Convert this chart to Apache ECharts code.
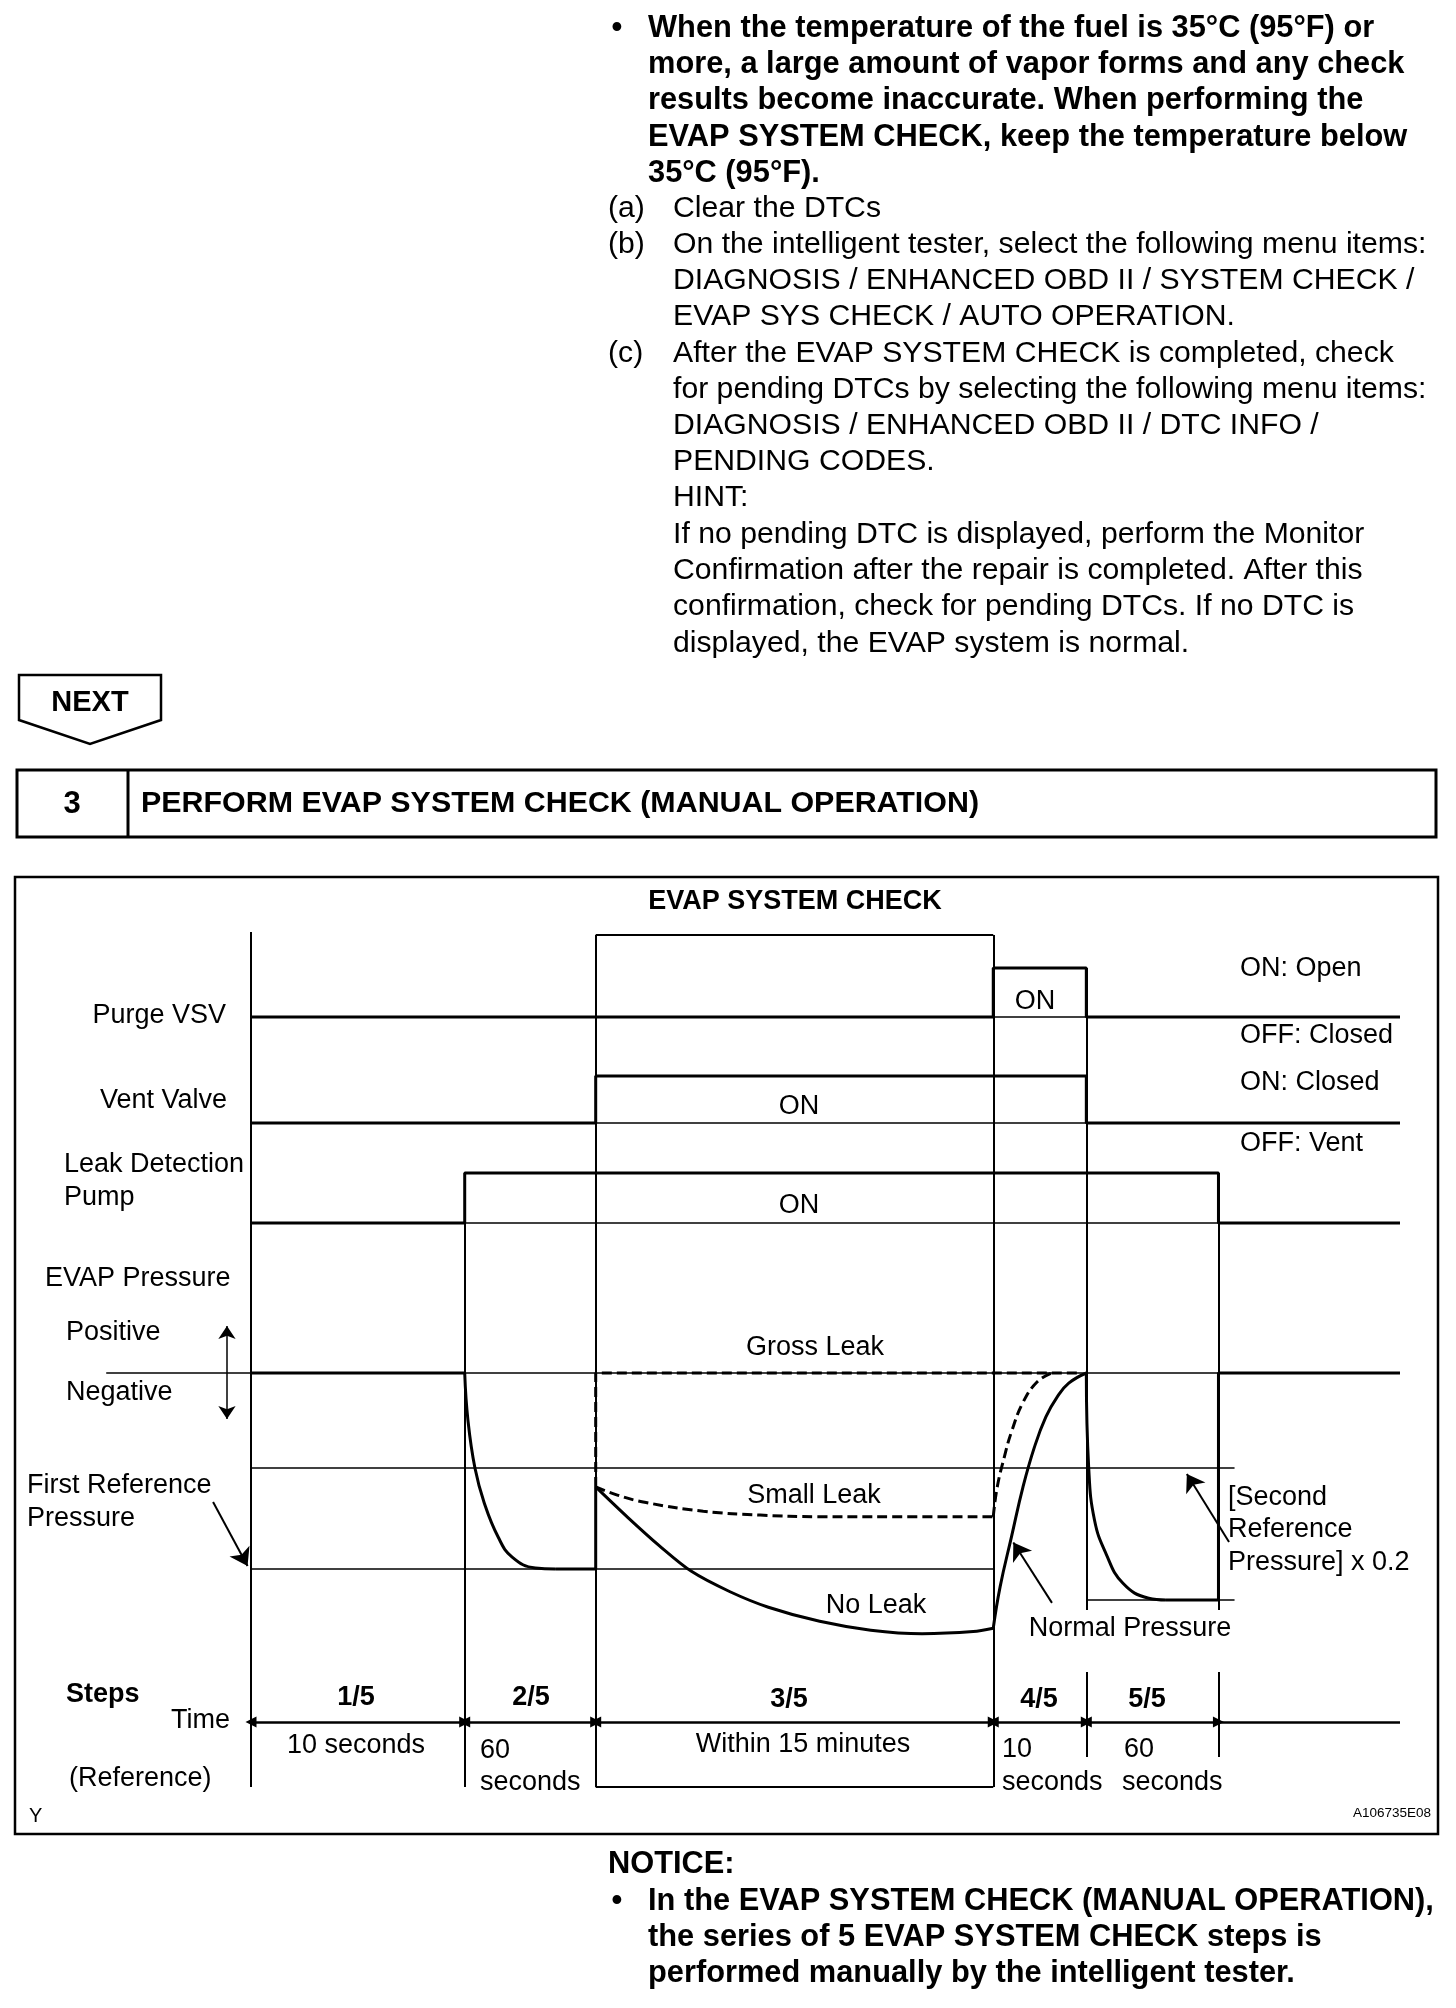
<!DOCTYPE html>
<html>
<head>
<meta charset="utf-8">
<title>EVAP SYSTEM CHECK</title>
<script src="https://cdn.jsdelivr.net/npm/echarts@6/dist/echarts.min.js"></script>
<style>
  html, body { margin: 0; padding: 0; background: #fff; }
  #chart { width: 1456px; height: 2008px; }
</style>
</head>
<body>
<div id="chart"></div>
<script>
// schematic time positions of the step boundaries (0 = left axis, 100 = right end)
const stepEdges = [0, 18.6, 30.0, 64.6, 72.7, 84.2, 100];
const stepNames = ['1/5', '2/5', '3/5', '4/5', '5/5'];

// on/off signals: [time, state] with 0 = OFF, 1 = ON
const purgeVsv = [[0, 0], [64.6, 0], [64.6, 1], [72.7, 1], [72.7, 0], [100, 0]];
const ventValve = [[0, 0], [30, 0], [30, 1], [72.7, 1], [72.7, 0], [100, 0]];
const leakPump = [[0, 0], [18.6, 0], [18.6, 1], [84.2, 1], [84.2, 0], [100, 0]];

// EVAP pressure, relative (0 = atmospheric, -1 = first reference pressure)
const pressHold = [[0, 0], [18.6, 0]];
const pressPumpDown = [[18.6, 0], [18.88, -0.24], [19.49, -0.485], [20.3, -0.663], [21.51, -0.837],
  [22.73, -0.939], [24.75, -0.995], [26.5, -1.0]];
const pressRefHold = [[26.5, -1.0], [30.0, -1.0], [30.0, -0.581]];
const pressNoLeak = [[30.0, -0.581], [32.76, -0.735], [35.55, -0.882], [38.33, -1.012], [41.69, -1.116],
  [45.03, -1.195], [49.49, -1.267], [53.94, -1.312], [58.4, -1.33], [62.86, -1.319], [64.6, -1.302]];
const pressNormalRise = [[64.6, -1.302], [65.2, -1.09], [66.19, -0.835], [67.19, -0.581], [68.19, -0.377],
  [69.18, -0.224], [70.17, -0.122], [71.17, -0.052], [72.7, 0]];
const pressSecondDown = [[72.7, 0], [72.91, -0.487], [73.41, -0.75], [74.4, -0.92], [75.89, -1.073],
  [78.13, -1.149], [79.62, -1.158]];
const pressSecondHold = [[79.62, -1.158], [84.2, -1.158], [84.2, 0], [100, 0]];
const grossLeak = [[30.0, -0.581], [30.0, 0], [72.2, 0]];
const smallLeak = [[30.0, -0.581], [31.89, -0.623], [34.38, -0.661], [39.36, -0.705], [44.32, -0.725],
  [49.29, -0.733], [56.0, -0.734], [64.6, -0.734]];
const smallLeakRise = [[64.6, -0.734], [64.95, -0.581], [65.6, -0.42], [66.19, -0.3], [67.19, -0.15],
  [68.43, -0.045], [69.67, 0]];

// thin reference levels in the pressure panel
const pressLevels = [
  [[-12.6, 0], [100, 0]],
  [[0, -0.485], [85.6, -0.485]],
  [[0, -1.0], [64.6, -1.0]],
  [[72.7, -1.158], [85.6, -1.158]]
];
// annotation arrows [from, to] in the pressure panel
const pressArrows = [
  [[-3.3, -0.658], [-0.3, -0.985]],
  [[69.71, -1.173], [66.35, -0.865]],
  [[85.12, -0.862], [81.45, -0.515]]
];
const posNegArrow = [[-2.09, 0.24], [-2.09, -0.235]];

// thin vertical frame lines, y as fraction of the diagram height
const frameLines = [
  [[0, 0], [0, 1]],
  [[18.6, 0], [18.6, 0.718]],
  [[30, 0], [30, 0.9965]],
  [[64.6, 0], [64.6, 0.9965]],
  [[30, 0.9965], [64.6, 0.9965]],
  [[30, 0], [64.6, 0]],
  [[72.7, 0.207], [72.7, 0.958]],
  [[72.7, 0.035], [72.7, 0.1345]],
  [[84.2, 0.207], [84.2, 0.718]],
  [[84.2, 0.035], [84.2, 0.1345]]
];

const FONT = '"Liberation Sans", Arial, Helvetica, sans-serif';
const L = 251, W = 1149;

function txt(x, y, text, o) {
  return {
    type: 'text', x: x, y: y, silent: true,
    style: Object.assign({
      text: text, fill: '#000', fontFamily: FONT, fontSize: 27, fontWeight: 'normal',
      align: 'left', verticalAlign: 'middle'
    }, o || {})
  };
}
const B = { fontWeight: 'bold', fontSize: 30.8 };
const R = { fontSize: 30.2 };

function line(name, grid, data, width, extra) {
  return Object.assign({
    name: name, type: 'line', xAxisIndex: grid, yAxisIndex: grid, data: data,
    showSymbol: false, symbol: 'none', clip: false, silent: true,
    lineStyle: { color: '#000', width: width }
  }, extra || {});
}
function curve(name, grid, data, width, dashed, smooth) {
  return line(name, grid, data, width, {
    smooth: smooth || 0.45,
    lineStyle: { color: '#000', width: width, type: dashed ? [10, 5] : 'solid' }
  });
}
function segs(grid, list, width, symbol, size) {
  return {
    type: 'lines', coordinateSystem: 'cartesian2d', xAxisIndex: grid, yAxisIndex: grid,
    clip: false, silent: true, symbol: symbol || ['none', 'none'], symbolSize: size || 10,
    lineStyle: { color: '#000', width: width, opacity: 1 },
    itemStyle: { color: '#000' },
    data: list.map(function (c) { return { coords: c }; })
  };
}

const grids = [
  { left: L, width: W, top: 932, height: 855 },   // frame
  { left: L, width: W, top: 968, height: 49 },    // purge VSV
  { left: L, width: W, top: 1076, height: 47 },   // vent valve
  { left: L, width: W, top: 1173, height: 50 },   // leak detection pump
  { left: L, width: W, top: 1275, height: 392 },  // EVAP pressure
  { left: L, width: W, top: 1712, height: 20 }    // steps / time
];
const yRanges = [[0, 1], [0, 1], [0, 1], [0, 1], [-1.5, 0.5], [-1, 1]];

const timeArrows = [];
for (let i = 0; i < 5; i++) timeArrows.push([[stepEdges[i], 0], [stepEdges[i + 1], 0]]);

const series = [
  segs(0, frameLines, 2),
  segs(1, [[[0, 0], [100, 0]]], 1.5),
  segs(2, [[[0, 0], [100, 0]]], 1.5),
  segs(3, [[[0, 0], [100, 0]]], 1.5),
  segs(4, pressLevels, 1.5),
  line('Purge VSV', 1, purgeVsv, 3),
  line('Vent Valve', 2, ventValve, 3),
  line('Leak Detection Pump', 3, leakPump, 3),
  line('hold', 4, pressHold, 3),
  curve('pump down', 4, pressPumpDown, 3),
  line('ref hold', 4, pressRefHold, 3),
  curve('No Leak', 4, pressNoLeak, 3, false, 0.3),
  curve('Normal Pressure', 4, pressNormalRise, 3),
  curve('second down', 4, pressSecondDown, 3),
  line('second hold', 4, pressSecondHold, 3),
  line('Gross Leak', 4, grossLeak, 3, { lineStyle: { color: '#000', width: 3, type: [10, 5] } }),
  curve('Small Leak', 4, smallLeak, 3, true),
  curve('Small Leak rise', 4, smallLeakRise, 3, true),
  segs(4, pressArrows, 2, ['none', 'arrow'], 17),
  segs(4, [posNegArrow], 1.5, ['arrow', 'arrow'], 13),
  segs(5, timeArrows, 2.5, ['triangle', 'triangle'], 11),
  segs(5, [[[stepEdges[5], 0], [stepEdges[6], 0]]], 2.5)
];

const graphics = [
  // top text
  txt(617, 29, '\u2022', Object.assign({ align: 'center' }, B)),
  txt(648, 29, 'When the temperature of the fuel is 35\u00b0C (95\u00b0F) or', B),
  txt(648, 65, 'more, a large amount of vapor forms and any check', B),
  txt(648, 101, 'results become inaccurate. When performing the', B),
  txt(648, 138, 'EVAP SYSTEM CHECK, keep the temperature below', B),
  txt(648, 174, '35\u00b0C (95\u00b0F).', B),
  txt(608, 209, '(a)', R), txt(673, 209, 'Clear the DTCs', R),
  txt(608, 245, '(b)', R), txt(673, 245, 'On the intelligent tester, select the following menu items:', R),
  txt(673, 281, 'DIAGNOSIS / ENHANCED OBD II / SYSTEM CHECK /', R),
  txt(673, 317, 'EVAP SYS CHECK / AUTO OPERATION.', R),
  txt(608, 354, '(c)', R), txt(673, 354, 'After the EVAP SYSTEM CHECK is completed, check', R),
  txt(673, 390, 'for pending DTCs by selecting the following menu items:', R),
  txt(673, 426, 'DIAGNOSIS / ENHANCED OBD II / DTC INFO /', R),
  txt(673, 462, 'PENDING CODES.', R),
  txt(673, 498, 'HINT:', R),
  txt(673, 535, 'If no pending DTC is displayed, perform the Monitor', R),
  txt(673, 571, 'Confirmation after the repair is completed. After this', R),
  txt(673, 607, 'confirmation, check for pending DTCs. If no DTC is', R),
  txt(673, 644, 'displayed, the EVAP system is normal.', R),

  // NEXT marker
  { type: 'polygon', silent: true, shape: { points: [[19, 675], [161, 675], [161, 720], [90, 744], [19, 720]] },
    style: { fill: '#fff', stroke: '#000', lineWidth: 2.5 } },
  txt(90, 703, 'NEXT', { fontWeight: 'bold', fontSize: 29, align: 'center' }),

  // step header
  { type: 'rect', silent: true, shape: { x: 17, y: 770, width: 1419, height: 67 },
    style: { fill: 'none', stroke: '#000', lineWidth: 3 } },
  { type: 'line', silent: true, shape: { x1: 128, y1: 770, x2: 128, y2: 837 },
    style: { stroke: '#000', lineWidth: 3 } },
  txt(72, 804, '3', { fontWeight: 'bold', fontSize: 31, align: 'center' }),
  txt(141, 804, 'PERFORM EVAP SYSTEM CHECK (MANUAL OPERATION)', { fontWeight: 'bold', fontSize: 30.4 }),

  // diagram frame
  { type: 'rect', silent: true, shape: { x: 15, y: 877, width: 1423, height: 957 },
    style: { fill: 'none', stroke: '#000', lineWidth: 2.5 } },
  txt(795, 902, 'EVAP SYSTEM CHECK', { fontWeight: 'bold', align: 'center' }),

  // row labels
  txt(226, 1016, 'Purge VSV', { align: 'right' }),
  txt(227, 1101, 'Vent Valve', { align: 'right' }),
  txt(64, 1165, 'Leak Detection'),
  txt(64, 1198, 'Pump'),
  txt(1240, 969, 'ON: Open'),
  txt(1240, 1036, 'OFF: Closed'),
  txt(1240, 1083, 'ON: Closed'),
  txt(1240, 1144, 'OFF: Vent'),
  txt(1035, 1002, 'ON', { align: 'center' }),
  txt(799, 1107, 'ON', { align: 'center' }),
  txt(799, 1206, 'ON', { align: 'center' }),

  txt(45, 1279, 'EVAP Pressure'),
  txt(66, 1333, 'Positive'),
  txt(66, 1393, 'Negative'),
  txt(27, 1486, 'First Reference'),
  txt(27, 1519, 'Pressure'),
  txt(815, 1348, 'Gross Leak', { align: 'center' }),
  txt(814, 1496, 'Small Leak', { align: 'center' }),
  txt(876, 1606, 'No Leak', { align: 'center' }),
  txt(1130, 1629, 'Normal Pressure', { align: 'center' }),
  txt(1228, 1498, '[Second'),
  txt(1228, 1530, 'Reference'),
  txt(1228, 1563, 'Pressure] x 0.2'),

  // steps and times
  txt(66, 1695, 'Steps', { fontWeight: 'bold' }),
  txt(230, 1721, 'Time', { align: 'right' }),
  txt(69, 1779, '(Reference)'),
  txt(356, 1698, stepNames[0], { fontWeight: 'bold', align: 'center' }),
  txt(531, 1698, stepNames[1], { fontWeight: 'bold', align: 'center' }),
  txt(789, 1700, stepNames[2], { fontWeight: 'bold', align: 'center' }),
  txt(1039, 1700, stepNames[3], { fontWeight: 'bold', align: 'center' }),
  txt(1147, 1700, stepNames[4], { fontWeight: 'bold', align: 'center' }),
  txt(356, 1746, '10 seconds', { align: 'center' }),
  txt(480, 1751, '60'), txt(480, 1783, 'seconds'),
  txt(803, 1745, 'Within 15 minutes', { align: 'center' }),
  txt(1002, 1750, '10'), txt(1002, 1783, 'seconds'),
  txt(1124, 1750, '60'), txt(1122, 1783, 'seconds'),
  txt(29, 1816, 'Y', { fontSize: 20 }),
  txt(1431, 1813, 'A106735E08', { fontSize: 13.5, align: 'right' }),

  // notice
  txt(608, 1865, 'NOTICE:', B),
  txt(617, 1902, '\u2022', Object.assign({ align: 'center' }, B)),
  txt(648, 1902, 'In the EVAP SYSTEM CHECK (MANUAL OPERATION),', B),
  txt(648, 1938, 'the series of 5 EVAP SYSTEM CHECK steps is', B),
  txt(648, 1974, 'performed manually by the intelligent tester.', B)
];

const chart = echarts.init(document.getElementById('chart'), null, { renderer: 'canvas' });
chart.setOption({
  backgroundColor: '#fff',
  animation: false,
  grid: grids,
  xAxis: grids.map(function (g, i) {
    return { type: 'value', gridIndex: i, min: 0, max: 100, show: false };
  }),
  yAxis: grids.map(function (g, i) {
    return { type: 'value', gridIndex: i, min: yRanges[i][0], max: yRanges[i][1], show: false };
  }),
  graphic: graphics,
  series: series
});
</script>
</body>
</html>
